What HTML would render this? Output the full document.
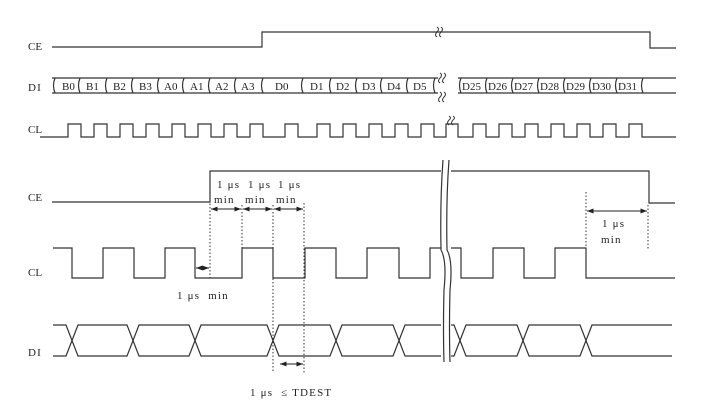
<!DOCTYPE html>
<html><head><style>
html,body{margin:0;padding:0;background:#fff;}
svg{display:block;}
text{font-family:"Liberation Serif",serif;font-size:11px;fill:#222;}
.w{letter-spacing:1.2px;}
</style></head><body>
<svg width="714" height="413" viewBox="0 0 714 413" xmlns="http://www.w3.org/2000/svg">
<defs>
<marker id="a" viewBox="0 0 8 8" refX="8" refY="4" markerWidth="6" markerHeight="6" orient="auto-start-reverse"><path d="M0,1 L8,4 L0,7z" fill="#222"/></marker>
</defs>
<g stroke="#333" stroke-width="1.2" fill="none">
<path d="M52,47 H262 V32 H650 V48 H676"/>
<path d="M52,78 H676 M52,93 H676"/>
<path d="M40,137 H68 V124 H81 V137 H94 V124 H107 V137 H120 V124 H133 V137 H146 V124 H159 V137 H172 V124 H185 V137 H198 V124 H211 V137 H224 V124 H237 V137 H250 V124 H263 V137 H285 V124 H298 V137 H317 V124 H330 V137 H343 V124 H356 V137 H369 V124 H382 V137 H395 V124 H408 V137 H421 V124 H434 V137 H446 V124 H458 V137 H473 V124 H486 V137 H499 V124 H512 V137 H525 V124 H538 V137 H551 V124 H564 V137 H577 V124 H590 V137 H603 V124 H616 V137 H629 V124 H642 V137 H676"/>
<path d="M52,202 H210 V171 H649 V203 H675"/>
<path d="M53,248 H72 V278 H103 V248 H134 V278 H165 V248 H195 V278 H242 V248 H273 V278 H305 V248 H336 V278 H367 V248 H399 V278 H430 V248 H461 V278 H493 V248 H524 V278 H555 V248 H586 V278 H675"/>
<path d="M53,325 H66 L78,356 H127 L139,325 H189 L201,356 H267 L279,325 H330 L342,356 H393 L405,325 H454 L466,356 H517 L529,325 H580 L592,356 H672"/>
<path d="M53,356 H66 L78,325 H127 L139,356 H189 L201,325 H267 L279,356 H330 L342,325 H393 L405,356 H454 L466,325 H517 L529,356 H580 L592,325 H672"/>
</g>
<g stroke="#333" stroke-width="1.2" fill="none">
<path d="M55,78 q-3,7.5 0,15 M80,78 q-3,7.5 0,15 M107,78 q-3,7.5 0,15 M133,78 q-3,7.5 0,15 M159,78 q-3,7.5 0,15 M184,78 q-3,7.5 0,15 M210,78 q-3,7.5 0,15 M236,78 q-3,7.5 0,15 M263,78 q-3,7.5 0,15 M303,78 q-3,7.5 0,15 M331,78 q-3,7.5 0,15 M357,78 q-3,7.5 0,15 M382,78 q-3,7.5 0,15 M408,78 q-3,7.5 0,15 M435,78 q-3,7.5 0,15 M461,78 q-3,7.5 0,15 M487,78 q-3,7.5 0,15 M513,78 q-3,7.5 0,15 M539,78 q-3,7.5 0,15 M565,78 q-3,7.5 0,15 M591,78 q-3,7.5 0,15 M617,78 q-3,7.5 0,15 M643,78 q-3,7.5 0,15"/>
</g>
<g fill="#fff"><rect x="438" y="76" width="20" height="19"/></g>
<g stroke="#333" stroke-width="1" fill="none">
<path d="M437,27 q3,2 0,5 q-3,3 0,5 M441,27 q3,2 0,5 q-3,3 0,5"/>
<path d="M440,73 q3,2 0,5 q-3,3 0,5 M444,73 q3,2 0,5 q-3,3 0,5 M440,92 q3,2 0,5 q-3,3 0,5 M444,92 q3,2 0,5 q-3,3 0,5"/>
<path d="M449,116 q3,2 0,4 q-3,3 0,5 M453,116 q3,2 0,4 q-3,3 0,5"/>
</g>
<rect x="441" y="160" width="10" height="205" fill="#fff"/>
<g stroke="#333" stroke-width="1.2" fill="none">
<path d="M443,160 q-3,40 -2,90 q6,10 3,40 q-1,40 0,72"/>
<path d="M449,160 q-3,40 -2,90 q6,10 3,40 q-1,40 0,72"/>
</g>
<g stroke="#333" stroke-width="1" stroke-dasharray="1.5,2" fill="none">
<path d="M210,172 V279 M242,205 V250 M273,205 V373 M304,203 V373 M586,192 V250 M648,205 V250"/>
</g>
<g stroke="#222" stroke-width="1.1" fill="none" marker-start="url(#a)" marker-end="url(#a)">
<line x1="211" y1="209" x2="241" y2="209"/>
<line x1="243" y1="209" x2="272" y2="209"/>
<line x1="274" y1="209" x2="303" y2="209"/>
<line x1="196" y1="268" x2="209" y2="268"/>
<line x1="280" y1="364" x2="303" y2="364"/>
<line x1="587" y1="211" x2="647" y2="211"/>
</g>
<text x="28" y="50">CE</text>
<text x="28" y="91" class="w">DI</text>
<text x="28" y="133">CL</text>
<text x="28" y="201">CE</text>
<text x="28" y="276">CL</text>
<text x="28" y="356" class="w">DI</text>
<g font-size="11">
<text x="62" y="90">B0</text><text x="86" y="90">B1</text><text x="113" y="90">B2</text><text x="139" y="90">B3</text>
<text x="164" y="90">A0</text><text x="190" y="90">A1</text><text x="215" y="90">A2</text><text x="241" y="90">A3</text>
<text x="275" y="90">D0</text><text x="310" y="90">D1</text><text x="336" y="90">D2</text><text x="362" y="90">D3</text>
<text x="387" y="90">D4</text><text x="413" y="90">D5</text>
<text x="462" y="90">D25</text><text x="488" y="90">D26</text><text x="514" y="90">D27</text><text x="540" y="90">D28</text>
<text x="566" y="90">D29</text><text x="592" y="90">D30</text><text x="618" y="90">D31</text>
</g>
<text x="217" y="188" class="w">1 μs</text><text x="248" y="188" class="w">1 μs</text><text x="278" y="188" class="w">1 μs</text>
<text x="214" y="203" class="w">min</text><text x="245" y="203" class="w">min</text><text x="276" y="203" class="w">min</text>
<text x="177" y="299" class="w">1 μs&#160;&#160;min</text>
<text x="250" y="396" class="w">1 μs&#160;&#160;≤ TDEST</text>
<text x="602" y="227" class="w">1 μs</text>
<text x="601" y="243" class="w">min</text>
</svg>
</body></html>
